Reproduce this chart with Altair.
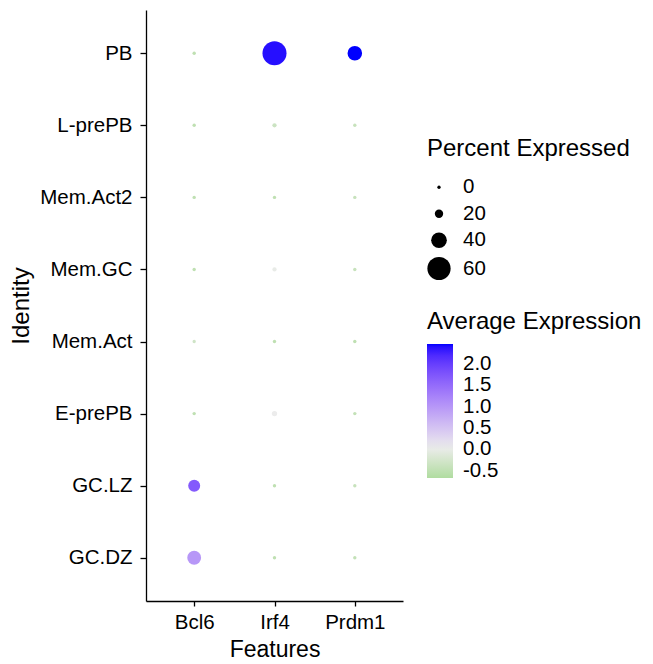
import altair as alt
import pandas as pd

identities = ["PB", "L-prePB", "Mem.Act2", "Mem.GC", "Mem.Act", "E-prePB", "GC.LZ", "GC.DZ"]
features = ["Bcl6", "Irf4", "Prdm1"]

# average (scaled) expression, rows = identities, cols = features
avg_bcl6 = [-0.50, -0.50, -0.50, -0.50, -0.30, -0.50, 1.70, 1.00]
avg_irf4 = [2.40, -0.35, -0.50, 0.00, -0.50, 0.05, -0.50, -0.50]
avg_prdm1 = [2.47, -0.40, -0.40, -0.40, -0.50, -0.45, -0.40, -0.45]

# percent expressed
pct_bcl6 = [2.0, 2.0, 2.0, 2.0, 1.5, 2.0, 30.0, 35.0]
pct_irf4 = [62.0, 7.0, 2.0, 7.0, 2.0, 11.0, 2.0, 2.0]
pct_prdm1 = [37.0, 2.0, 2.0, 2.0, 2.0, 2.0, 2.0, 2.0]

rows = []
for f, avgs, pcts in [("Bcl6", avg_bcl6, pct_bcl6), ("Irf4", avg_irf4, pct_irf4), ("Prdm1", avg_prdm1, pct_prdm1)]:
    for ident, a, p in zip(identities, avgs, pcts):
        rows.append({"Features": f, "Identity": ident, "avg": a, "pct": p})
df = pd.DataFrame(rows)

FONT = "Liberation Sans"

chart = alt.Chart(df).mark_circle(opacity=1).encode(
    x=alt.X("Features:N", sort=features,
            scale=alt.Scale(type="point", padding=0.6),
            axis=alt.Axis(title="Features", labelAngle=0, tickSize=5, labelPadding=6,
                          titleBaseline="alphabetic", titleY=55, titleX=128.5, titleFontSize=23)),
    y=alt.Y("Identity:N", sort=identities,
            scale=alt.Scale(type="point", padding=0.6),
            axis=alt.Axis(title="Identity", tickSize=6, labelPadding=8,
                          titleX=-125, titleY=295.5, titleBaseline="middle", titleAngle=270)),
    size=alt.Size("pct:Q", title="Percent Expressed",
                  scale=alt.Scale(type="pow", exponent=2, domain=[0, 62], range=[11, 576]),
                  legend=alt.Legend(values=[0, 20, 40, 60], orient="none", legendX=281, legendY=127,
                                    symbolFillColor="black", symbolStrokeWidth=0, symbolType="circle",
                                    labelOffset=12, rowPadding=5.5, padding=0, titlePadding=16,
                                    titleLimit=400)),
    color=alt.Color("avg:Q", title="Average Expression",
                    scale=alt.Scale(domain=[-0.67, 0.05, 2.47],
                                    range=["#b0dca0", "#ececec", "#0000ff"], interpolate="lab"),
                    legend=alt.Legend(values=[-0.5, 0.0, 0.5, 1.0, 1.5, 2.0],
                                      labelExpr="replace(format(datum.value, '.1f'), '\u2212', '-')",
                                      orient="none", legendX=281, legendY=300,
                                      gradientLength=134, gradientThickness=26,
                                      gradientStrokeWidth=0, labelOffset=10,
                                      labelOverlap=False, padding=0, titleLimit=400)),
).properties(
    width=257, height=591,
    autosize=alt.AutoSizeParams(type="none"),
    padding={"left": 138, "top": 2, "right": 240, "bottom": 61},
).configure_view(stroke=None).configure_axis(
    labelFont=FONT, titleFont=FONT, labelFontSize=20.5, titleFontSize=24,
    labelColor="black", titleColor="black", titleFontWeight="normal",
    domainColor="black", tickColor="black", domainWidth=1.3, tickWidth=1.3, grid=False,
).configure_legend(
    labelFont=FONT, titleFont=FONT, labelFontSize=20.5, titleFontSize=24,
    labelColor="black", titleColor="black", titleFontWeight="normal", titlePadding=10,
)

chart.save("out.html", embed_options={"renderer": "svg", "actions": False})
